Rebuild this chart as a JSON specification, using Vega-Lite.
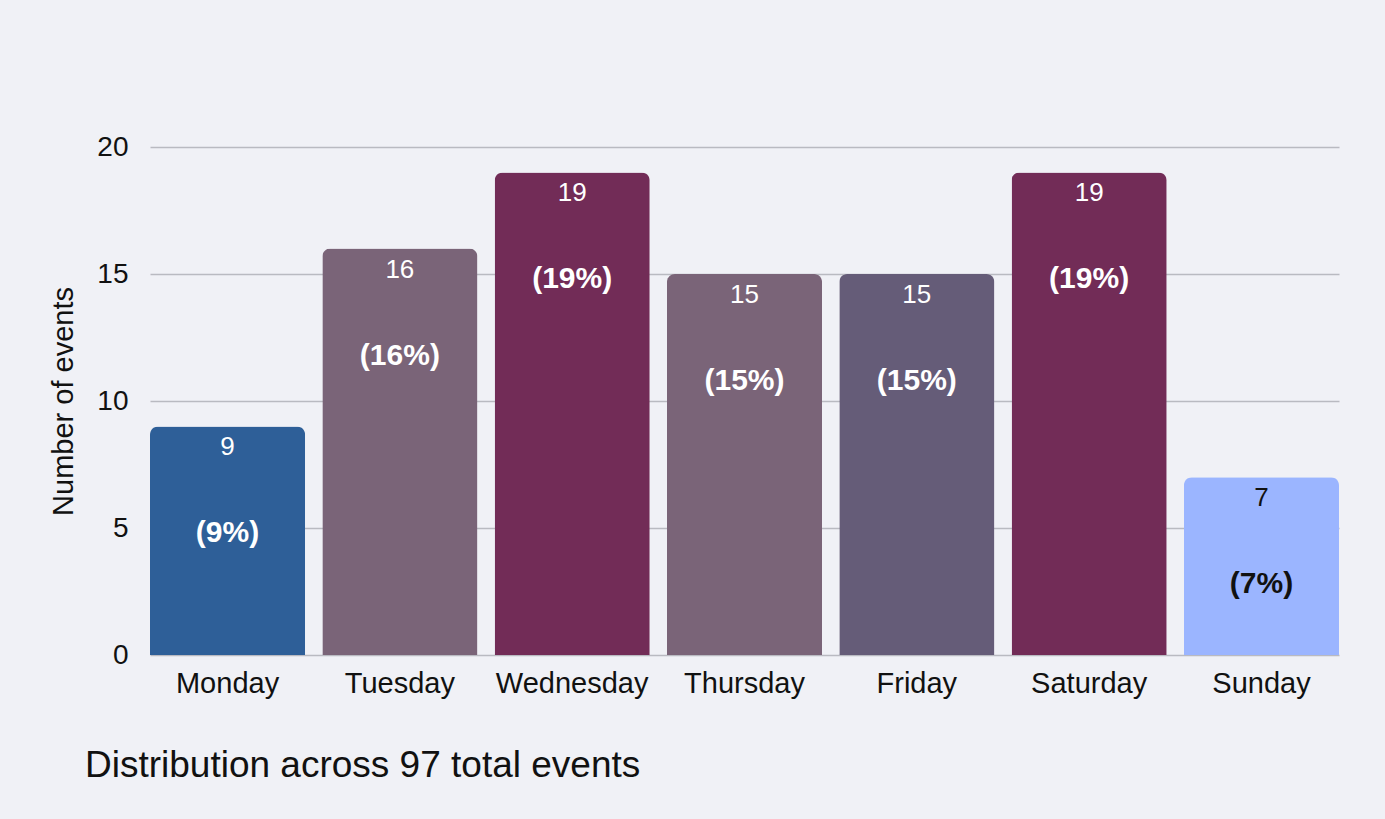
{
  "$schema": "https://vega.github.io/schema/vega-lite/v6.json",
  "autosize": {"type": "none"},
  "width": 1189,
  "height": 508,
  "padding": {"left": 150, "top": 147, "right": 46, "bottom": 164},
  "background": "#f0f1f6",
  "title": {
    "text": "Distribution across 97 total events",
    "orient": "bottom",
    "anchor": "start",
    "frame": "group",
    "dx": -65,
    "offset": 50,
    "fontSize": 37,
    "font": "Liberation Sans",
    "fontWeight": "normal",
    "color": "#111111"
  },
  "config": {
    "view": {"stroke": null},
    "font": "Liberation Sans"
  },
  "data": {
    "values": [
      {"day": "Monday", "count": 9, "pct": "(9%)"},
      {"day": "Tuesday", "count": 16, "pct": "(16%)"},
      {"day": "Wednesday", "count": 19, "pct": "(19%)"},
      {"day": "Thursday", "count": 15, "pct": "(15%)"},
      {"day": "Friday", "count": 15, "pct": "(15%)"},
      {"day": "Saturday", "count": 19, "pct": "(19%)"},
      {"day": "Sunday", "count": 7, "pct": "(7%)"}
    ]
  },
  "encoding": {
    "x": {
      "field": "day",
      "type": "nominal",
      "sort": null,
      "scale": {"paddingInner": 0.1, "paddingOuter": 0},
      "axis": {
        "title": null,
        "labelAngle": 0,
        "labelFontSize": 29,
        "labelColor": "#111111",
        "labelPadding": 14,
        "ticks": false,
        "domain": false
      }
    },
    "y": {
      "field": "count",
      "type": "quantitative",
      "scale": {"domain": [0, 20]},
      "axis": {
        "title": "Number of events",
        "titleFontSize": 29,
        "titleFontWeight": "normal",
        "titleColor": "#111111",
        "titlePadding": 18,
        "values": [0, 5, 10, 15, 20],
        "labelFontSize": 28,
        "labelColor": "#111111",
        "labelPadding": 22,
        "ticks": false,
        "domain": false,
        "gridColor": "#b9bac1",
        "gridWidth": 1.5
      }
    }
  },
  "layer": [
    {
      "mark": {"type": "bar", "cornerRadiusTopLeft": 8, "cornerRadiusTopRight": 8},
      "encoding": {
        "color": {
          "field": "day",
          "type": "nominal",
          "legend": null,
          "scale": {
            "domain": ["Monday", "Tuesday", "Wednesday", "Thursday", "Friday", "Saturday", "Sunday"],
            "range": ["#2e5f98", "#7a6478", "#722c57", "#7a6478", "#655c78", "#722c57", "#9bb5ff"]
          }
        }
      }
    },
    {
      "mark": {"type": "text", "baseline": "middle", "dy": 21, "fontSize": 26, "fontWeight": "normal"},
      "encoding": {
        "text": {"field": "count", "type": "quantitative"},
        "color": {"condition": {"test": "datum.day === 'Sunday'", "value": "#111111"}, "value": "#ffffff"}
      }
    },
    {
      "mark": {"type": "text", "baseline": "middle", "dy": 107, "fontSize": 30, "fontWeight": "bold"},
      "encoding": {
        "text": {"field": "pct", "type": "nominal"},
        "color": {"condition": {"test": "datum.day === 'Sunday'", "value": "#111111"}, "value": "#ffffff"}
      }
    }
  ]
}
